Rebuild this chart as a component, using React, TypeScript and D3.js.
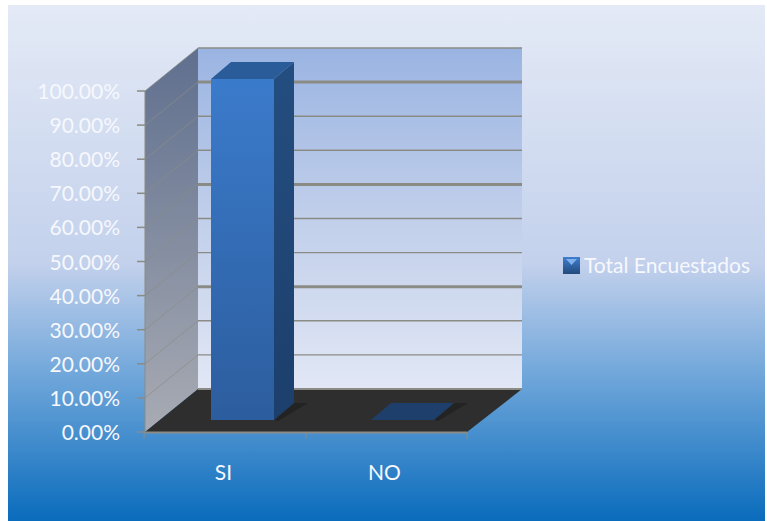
import React from "react";
import * as d3 from "d3";

const categories = ["SI", "NO"];
const seriesValues = [100, 0];
const tickValues = [0, 10, 20, 30, 40, 50, 60, 70, 80, 90, 100];
const legendLabel = "Total Encuestados";
const FONT = "Lato, 'Open Sans', sans-serif";
const TEXT_FILL = "#f6f8fd";
const LINE = "#8b8b85";

// Front plane of the 3D plot box and the offset towards the back wall.
const yFront = d3.scaleLinear().domain([0, 100]).range([432, 91]);
const xFront = d3.scaleBand().domain(categories).range([145, 467]);
const wallDx = 53;
const wallDy = -43;
const barInset = 66;
const barWidth = 63;
const barLift = -12;
const barDx = 20;
const barDy = -17;

const pts = (p: [number, number][]) => p.map((d) => d.join(",")).join(" ");

export default function App() {
  const y0 = yFront(0);
  const y100 = yFront(100);
  const x0 = 145;
  const x1 = 467;
  const backLeft = x0 + wallDx;
  const backRight = x1 + wallDx + 2;
  return (
    <svg width={767} height={521} style={{ position: "absolute", left: 0, top: 0, display: "block" }}>
      <defs>
        <linearGradient id="panel" x1="0" y1="0" x2="0" y2="1">
          <stop offset="0" stopColor="#e4eaf6" />
          <stop offset="0.5" stopColor="#c3d1ec" />
          <stop offset="0.72" stopColor="#6fa6da" />
          <stop offset="1" stopColor="#0a6cbc" />
        </linearGradient>
        <linearGradient id="backWall" x1="0" y1="0" x2="0" y2="1">
          <stop offset="0" stopColor="#9ab4e2" />
          <stop offset="0.5" stopColor="#c1cfea" />
          <stop offset="1" stopColor="#e1e7f5" />
        </linearGradient>
        <linearGradient id="sideWall" x1="0" y1="0" x2="0" y2="1">
          <stop offset="0" stopColor="#5f6f8e" />
          <stop offset="1" stopColor="#a8abb3" />
        </linearGradient>
        <linearGradient id="barFront" x1="0" y1="0" x2="0" y2="1">
          <stop offset="0" stopColor="#3b7bcb" />
          <stop offset="1" stopColor="#2c5d9e" />
        </linearGradient>
        <linearGradient id="barSide" x1="0" y1="0" x2="0" y2="1">
          <stop offset="0" stopColor="#244e80" />
          <stop offset="1" stopColor="#1c3f6c" />
        </linearGradient>
        <linearGradient id="swatch" x1="0" y1="0" x2="0" y2="1">
          <stop offset="0" stopColor="#3f7fd0" />
          <stop offset="1" stopColor="#234a7c" />
        </linearGradient>
      </defs>

      <rect x={8} y={5} width={757} height={516} fill="url(#panel)" />

      {/* Back wall, side wall and floor */}
      <rect x={backLeft} y={y100 + wallDy} width={backRight - backLeft} height={y0 - y100} fill="url(#backWall)" />
      <polygon
        points={pts([[x0, y100], [backLeft, y100 + wallDy], [backLeft, y0 + wallDy], [x0, y0]])}
        fill="url(#sideWall)"
      />
      <line x1={x0} y1={y100} x2={x0} y2={y0} stroke={LINE} />
      <polygon
        points={pts([[x0, y0], [backLeft, y0 + wallDy], [backRight, y0 + wallDy], [x1, y0]])}
        fill="#2e2e2e"
      />

      {/* Gridlines run along the side wall and across the back wall */}
      {tickValues.slice(1).map((t) => {
        const y = yFront(t);
        return (
          <g key={t} fill="none" stroke={LINE}>
            <line x1={x0} y1={y} x2={backLeft} y2={y + wallDy} strokeWidth={1} opacity={0.7} />
            <line x1={backLeft} y1={y + wallDy} x2={backRight} y2={y + wallDy} strokeWidth={t % 30 === 0 ? 3 : 1.4} />
          </g>
        );
      })}
      <line x1={backLeft} y1={y0 + wallDy} x2={backRight} y2={y0 + wallDy} stroke={LINE} strokeWidth={2} />

      {/* Axis lines, ticks and labels */}
      <line x1={x0} y1={y0 + 0.5} x2={x1} y2={y0 + 0.5} stroke={LINE} strokeWidth={2} />
      {[x0 - 1, (x0 + x1) / 2, x1].map((x) => (
        <line key={x} x1={x} y1={y0} x2={x} y2={y0 + 7} stroke={LINE} strokeWidth={1} />
      ))}
      {tickValues.map((t) => (
        <g key={t}>
          <line x1={x0 - 8} y1={yFront(t)} x2={x0} y2={yFront(t)} stroke={LINE} strokeWidth={1.5} />
          <text x={120} y={yFront(t) + 8} textAnchor="end" fontFamily={FONT} fontSize={21} fill={TEXT_FILL}>
            {t.toFixed(2)}%
          </text>
        </g>
      ))}

      {/* Bars are extruded boxes standing on the floor */}
      {categories.map((c, i) => {
        const left = (xFront(c) as number) + barInset - i;
        const right = left + barWidth;
        const base = y0 + barLift;
        const top = yFront(seriesValues[i]) + barLift;
        return (
          <g key={c}>
            <polygon
              points={pts([[right, base], [right + barDx, base + barDy], [right + barDx + 14, base + barDy], [right + 4, base + 1]])}
              fill="#1c1c1c"
              opacity={0.6}
            />
            <polygon
              points={pts([[left, top], [left + barDx, top + barDy], [right + barDx, top + barDy], [right, top]])}
              fill={seriesValues[i] > 0 ? "#2a5c99" : "#1e3f6b"}
            />
            {seriesValues[i] > 0 && (
              <>
                <polygon
                  points={pts([[right, top], [right + barDx, top + barDy], [right + barDx, base + barDy], [right, base]])}
                  fill="url(#barSide)"
                />
                <rect x={left} y={top} width={barWidth} height={base - top} fill="url(#barFront)" />
              </>
            )}
            <text
              x={(xFront(c) as number) + xFront.bandwidth() / 2 - 2}
              y={480}
              textAnchor="middle"
              fontFamily={FONT}
              fontSize={21}
              fill={TEXT_FILL}
            >
              {c}
            </text>
          </g>
        );
      })}

      {/* Legend */}
      <rect x={563} y={257} width={17} height={17} fill="url(#swatch)" />
      <polygon points={pts([[566, 259], [577, 259], [571.5, 265]])} fill="#7fb2ec" />
      <text x={584} y={273} fontFamily={FONT} fontSize={21} fill={TEXT_FILL}>
        {legendLabel}
      </text>
    </svg>
  );
}
